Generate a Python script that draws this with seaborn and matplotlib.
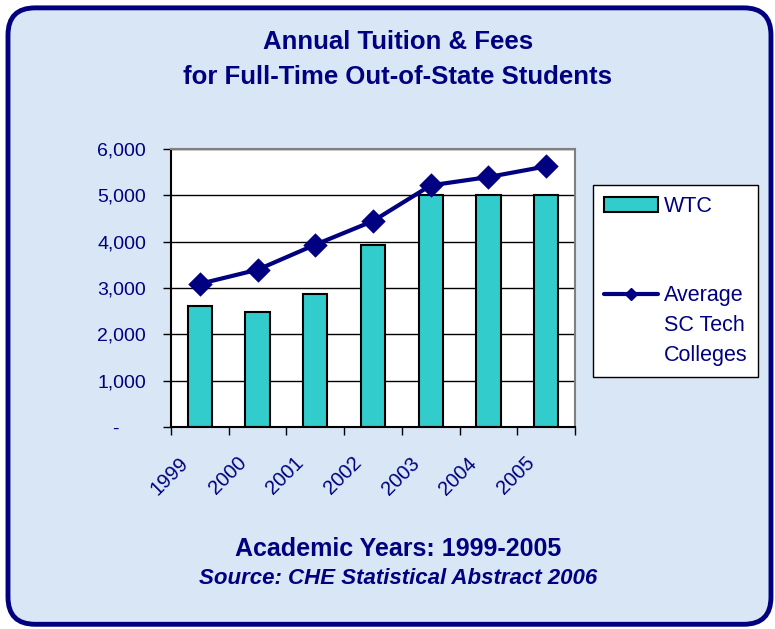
import matplotlib
matplotlib.use('Agg')
import matplotlib.pyplot as plt
import matplotlib.transforms as mtransforms
import seaborn as sns
import pandas as pd
from matplotlib.patches import FancyBboxPatch, Patch
from matplotlib.lines import Line2D
from matplotlib.ticker import FixedLocator, FuncFormatter

# data
years = ['1999', '2000', '2001', '2002', '2003', '2004', '2005']
wtc = [2610, 2490, 2875, 3930, 5000, 5000, 5000]
sc_avg = [3090, 3395, 3935, 4445, 5215, 5395, 5625]

NAVY = '#000080'
TEAL = '#33CCCC'

sns.set_style('white')
plt.rcParams['font.family'] = ['Liberation Sans', 'DejaVu Sans']

df = pd.DataFrame({'Year': years, 'WTC': wtc, 'Average': sc_avg})

fig = plt.figure(figsize=(7.75, 6.29), dpi=100, facecolor='white')

# light blue panel with rounded navy border
fig.patches.append(FancyBboxPatch(
    (0.0103, 0.0075), 0.9845, 0.980,
    boxstyle='round,pad=0,rounding_size=0.035', mutation_aspect=775 / 629,
    transform=fig.transFigure, facecolor='#d9e6f5', edgecolor=NAVY,
    linewidth=3.5, zorder=-10))

ax = fig.add_axes([0.2206, 0.3211, 0.5213, 0.442])
ax.set_facecolor('white')

sns.barplot(data=df, x='Year', y='WTC', color=TEAL, saturation=1, width=0.42,
            edgecolor='black', linewidth=1.5, ax=ax, zorder=2)
sns.pointplot(data=df, x='Year', y='Average', color=NAVY, markers='D',
              markersize=10, linewidth=3, errorbar=None, ax=ax, zorder=3)

# y axis
ax.set_ylim(0, 6000)
ax.set_yticks(range(0, 6001, 1000))
ax.yaxis.set_major_formatter(FuncFormatter(lambda v, _: '-     ' if v == 0 else f'{int(v):,}'))
ax.tick_params(axis='y', direction='out', length=6, width=1, color='black',
               labelcolor=NAVY, labelsize=14, pad=12, left=True)
ax.yaxis.grid(True, color='black', linewidth=1)
ax.set_axisbelow(True)

# x axis: labels at centers, tick marks at category boundaries
ax.set_xlim(-0.5, len(years) - 0.5)
ax.set_xticks(range(len(years)))
ax.set_xticklabels(years, rotation=45, ha='right', va='top', rotation_mode='anchor',
                   color=NAVY, fontsize=14.5)
ax.xaxis.set_minor_locator(FixedLocator([i - 0.5 for i in range(len(years) + 1)]))
ax.tick_params(axis='x', which='major', length=0, pad=19, bottom=True)
ax.tick_params(axis='x', which='minor', length=6, width=1, direction='out',
               color='black', bottom=True)
shift = mtransforms.ScaledTranslation(-0.21, 0, fig.dpi_scale_trans)
for lbl in ax.get_xticklabels():
    lbl.set_transform(lbl.get_transform() + shift)
ax.set_xlabel('')
ax.set_ylabel('')

for side in ['left', 'bottom']:
    ax.spines[side].set_color('black')
    ax.spines[side].set_linewidth(1.5)
for side in ['top', 'right']:
    ax.spines[side].set_color('#808080')
    ax.spines[side].set_linewidth(1.5)

# legend
blank = Line2D([], [], linestyle='none')
handles = [Patch(facecolor=TEAL, edgecolor='black', linewidth=1.5), blank, blank,
           Line2D([], [], color=NAVY, linewidth=3, marker='D', markersize=6),
           blank, blank]
labels = ['WTC', ' ', ' ', 'Average', 'SC Tech', 'Colleges']
leg = fig.legend(handles, labels, loc='upper left',
                 bbox_to_anchor=(593 / 775, 1 - 185 / 629), frameon=True,
                 fancybox=False, edgecolor='black', framealpha=1, fontsize=15.5,
                 labelspacing=0.41, handlelength=2.5, handletextpad=0.3,
                 borderpad=0.5, borderaxespad=0)
leg.get_frame().set_linewidth(1)
for t in leg.get_texts():
    t.set_color(NAVY)

# titles
fig.suptitle('Annual Tuition & Fees\nfor Full-Time Out-of-State Students',
             x=0.5135, y=1 - 59.5 / 629, va='center', fontsize=18.5,
             fontweight='bold', color=NAVY, linespacing=1.55)
fig.text(0.5135, 1 - 549 / 629, 'Academic Years: 1999-2005', ha='center',
         va='center', fontsize=18, fontweight='bold', color=NAVY)
fig.text(0.5135, 1 - 579 / 629, 'Source: CHE Statistical Abstract 2006',
         ha='center', va='center', fontsize=16, fontweight='bold',
         fontstyle='italic', color=NAVY)

fig.savefig('out.png', dpi=100)
